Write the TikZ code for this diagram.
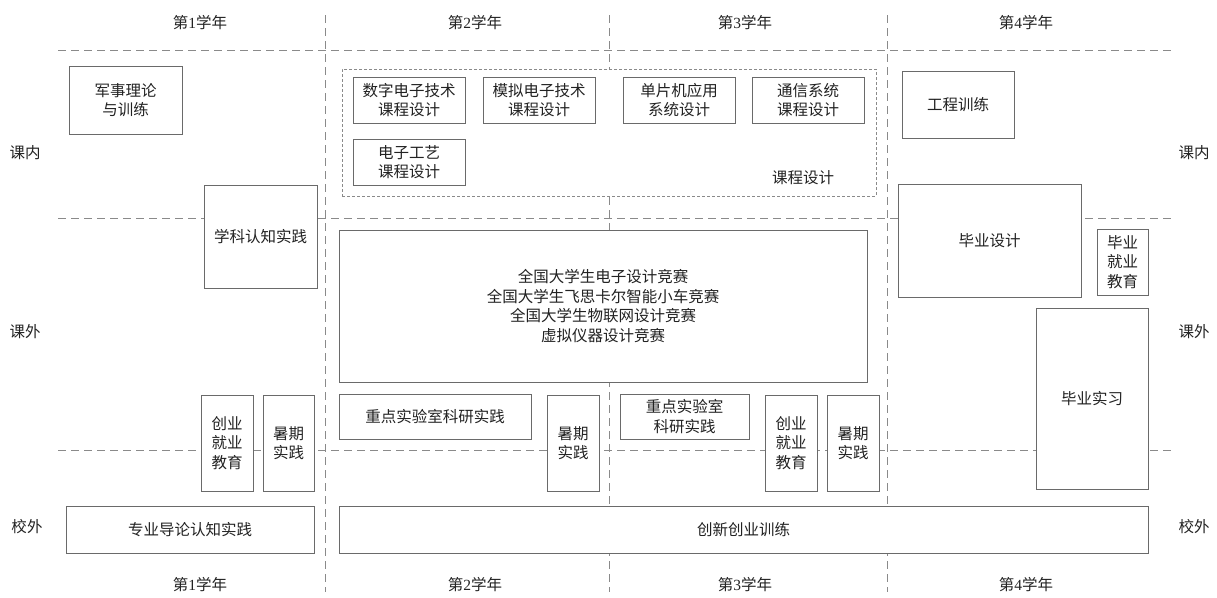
\documentclass[tikz,border=0pt]{standalone}
\usepackage{fontspec}
\setmainfont{Noto Sans CJK SC}
\newfontfamily\lat{Liberation Serif}
\definecolor{boxc}{HTML}{6A6A6A}
\definecolor{gridc}{HTML}{8A8A8A}
\definecolor{txt}{HTML}{222222}
\newcommand{\bx}[6]{\node[box, minimum width={(#4-#2)*1pt}, minimum height={(#5-#3)*1pt}] (#1) at ({(#2+#4)/2},{(#3+#5)/2}) {#6};}
\begin{document}
\begin{tikzpicture}[x=1pt,y=-1pt,
  box/.style={draw=boxc, line width=0.9pt, fill=white, inner sep=0pt, align=center, text=txt, font=\fontsize{15.5}{19.5}\selectfont},
  grid/.style={draw=gridc, line width=0.9pt, dash pattern=on 8pt off 5pt},
  cont/.style={draw=gridc, line width=0.8pt, dash pattern=on 3pt off 2pt, fill=white, inner sep=0pt},
  lbl/.style={text=txt, inner sep=0pt, font=\fontsize{15.5}{19.5}\selectfont}]
\useasboundingbox (0,0) rectangle (1217,597);
% grid
\draw[grid] (58,50) -- (1172,50);
\draw[grid] (58,218) -- (1172,218);
\draw[grid] (58,450) -- (1172,450);
\draw[grid] (325,15) -- (325,592);
\draw[grid] (609,15) -- (609,592);
\draw[grid] (887,15) -- (887,592);
% year labels
\node[lbl] (y1t) at (200,23) {第{\lat 1}学年};
\node[lbl] (y2t) at (475,23) {第{\lat 2}学年};
\node[lbl] (y3t) at (745,23) {第{\lat 3}学年};
\node[lbl] (y4t) at (1026,23) {第{\lat 4}学年};
\node[lbl] (y1b) at (200,585) {第{\lat 1}学年};
\node[lbl] (y2b) at (475,585) {第{\lat 2}学年};
\node[lbl] (y3b) at (745,585) {第{\lat 3}学年};
\node[lbl] (y4b) at (1026,585) {第{\lat 4}学年};
% side labels
\node[lbl] (kn1) at (25,153) {课内};
\node[lbl] (kw1) at (25,332) {课外};
\node[lbl] (xw1) at (27,527) {校外};
\node[lbl] (kn2) at (1194,153) {课内};
\node[lbl] (kw2) at (1194,332) {课外};
\node[lbl] (xw2) at (1194,527) {校外};
% course design container
\node[cont, minimum width=534pt, minimum height=127pt] (kcsj) at (609,132.5) {};
\node[lbl] (kcsjl) at (803,178) {课程设计};
% boxes
\bx{jsll}{69}{66}{182}{134}{军事理论\\与训练}
\bx{xkrz}{204}{185}{317}{288}{学科认知实践}
\bx{szdz}{353}{77}{465}{123}{数字电子技术\\课程设计}
\bx{mndz}{483}{77}{595}{123}{模拟电子技术\\课程设计}
\bx{dpj}{623}{77}{735}{123}{单片机应用\\系统设计}
\bx{txxt}{752}{77}{864}{123}{通信系统\\课程设计}
\bx{dzgy}{353}{139}{465}{185}{电子工艺\\课程设计}
\bx{gcxl}{902}{71}{1014}{138}{工程训练}
\bx{bysj}{898}{184}{1081}{297}{毕业设计}
\bx{byjy}{1097}{229}{1148}{295}{毕业\\就业\\教育}
\bx{qg}{339}{230}{867}{382}{全国大学生电子设计竞赛\\全国大学生飞思卡尔智能小车竞赛\\全国大学生物联网设计竞赛\\虚拟仪器设计竞赛}
\bx{bysx}{1036}{308}{1148}{489}{毕业实习}
\bx{cyjy1}{201}{395}{253}{491}{创业\\就业\\教育}
\bx{sq1}{263}{395}{314}{491}{暑期\\实践}
\bx{zdsy1}{339}{394}{531}{439}{重点实验室科研实践}
\bx{sq2}{547}{395}{599}{491}{暑期\\实践}
\bx{zdsy2}{620}{394}{749}{439}{重点实验室\\科研实践}
\bx{cyjy2}{765}{395}{817}{491}{创业\\就业\\教育}
\bx{sq3}{827}{395}{879}{491}{暑期\\实践}
\bx{zydl}{66}{506}{314}{553}{专业导论认知实践}
\bx{cxcy}{339}{506}{1148}{553}{创新创业训练}
\end{tikzpicture}
\end{document}
